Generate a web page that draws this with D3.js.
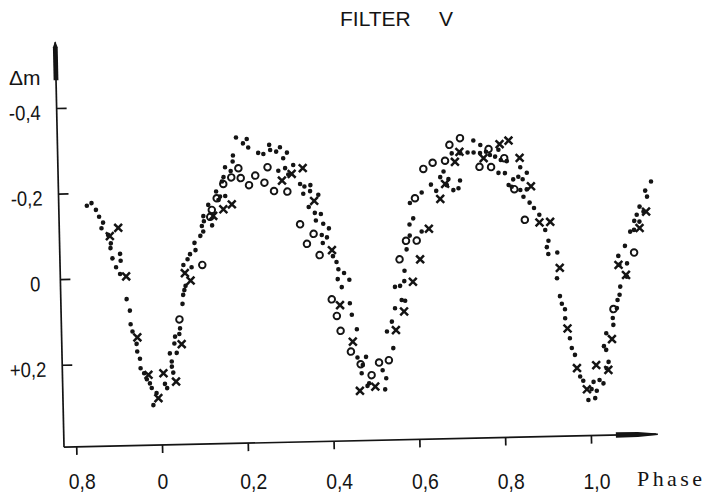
<!DOCTYPE html>
<html>
<head>
<meta charset="utf-8">
<script src="https://cdn.jsdelivr.net/npm/d3@7"></script>
<style>
  body { margin: 0; background: #fff; }
  svg { display: block; }
  .num { font-family: "Liberation Sans", Arial, sans-serif; }
  .type { font-family: "Liberation Serif", "DejaVu Serif", serif; }
</style>
</head>
<body>
<svg id="chart"></svg>
<script>
const xTicks = [-0.2, 0, 0.2, 0.4, 0.6, 0.8, 1.0]
const xTickLabels = ['0,8', '0', '0,2', '0,4', '0,6', '0,8', '1,0']
const yTicks = [-0.4, -0.2, 0, 0.2]
const yTickLabels = ['-0,4', '-0,2', '0', '+0,2']

// [phase, delta m]
const dots = [
  [-0.163,-0.170],[-0.152,-0.176],[-0.142,-0.160],[-0.135,-0.144],[-0.126,-0.130],[-0.130,-0.117],[-0.115,-0.101],[-0.109,-0.081],[-0.110,-0.070],[-0.088,-0.056],[-0.106,-0.046],[-0.087,-0.040],[-0.098,-0.025],[-0.089,-0.009],[-0.075,0.050],[-0.068,0.077],[-0.067,0.109],[-0.063,0.126],[-0.054,0.155],[-0.053,0.173],[-0.047,0.190],[-0.046,0.212],[-0.038,0.224],[-0.032,0.238],[-0.025,0.248],[-0.021,0.259],[-0.010,0.271],[-0.018,0.299],
  [0.010,0.250],[0.015,0.260],[0.027,0.210],[0.030,0.224],[0.027,0.198],[0.023,0.179],[0.039,0.178],[0.034,0.156],[0.036,0.140],[0.046,0.134],[0.048,0.121],[0.055,0.064],[0.057,0.043],[0.060,0.032],[0.063,0.022],[0.059,-0.027],[0.069,-0.040],[0.078,-0.021],[0.075,-0.052],[0.088,-0.061],[0.086,-0.078],[0.100,-0.094],[0.107,-0.104],[0.104,-0.117],[0.109,-0.128],[0.108,-0.140],[0.128,-0.118],[0.120,-0.166],[0.144,-0.177],[0.139,-0.197],[0.148,-0.185],[0.160,-0.186],[0.153,-0.220],[0.157,-0.230],[0.174,-0.244],[0.161,-0.253],[0.179,-0.266],[0.180,-0.280],[0.188,-0.322],[0.213,-0.318],[0.204,-0.308],[0.216,-0.298],[0.239,-0.285],[0.251,-0.282],[0.265,-0.303],[0.267,-0.291],[0.281,-0.287],[0.290,-0.297],[0.306,-0.284],[0.297,-0.271],[0.320,-0.255],[0.285,-0.242],[0.301,-0.248],[0.308,-0.233],
  [0.335,-0.210],[0.345,-0.204],[0.359,-0.207],[0.358,-0.193],[0.377,-0.184],[0.342,-0.187],[0.354,-0.156],[0.368,-0.142],[0.382,-0.139],[0.370,-0.124],[0.387,-0.116],[0.400,-0.105],[0.383,-0.090],[0.395,-0.084],[0.385,-0.071],[0.408,-0.040],[0.416,-0.026],[0.420,-0.009],[0.433,0.000],[0.418,0.014],[0.445,0.016],[0.427,0.033],[0.445,0.071],[0.449,0.098],[0.460,0.132],[0.460,0.198],[0.480,0.197],[0.472,0.216],[0.469,0.235],[0.518,0.229],[0.526,0.248],[0.486,0.259],[0.523,0.274],[0.482,0.265],
  [0.544,0.178],[0.530,0.139],[0.542,0.116],[0.550,0.085],[0.566,0.066],[0.574,0.068],[0.551,0.035],[0.563,0.033],[0.573,0.022],[0.574,-0.002],[0.580,-0.052],[0.588,-0.084],[0.588,-0.110],[0.597,-0.124],[0.616,-0.093],[0.590,-0.160],[0.618,-0.184],[0.640,-0.202],[0.652,-0.187],[0.662,-0.219],[0.670,-0.232],[0.681,-0.214],[0.677,-0.200],[0.692,-0.188],[0.704,-0.192],[0.708,-0.210],
  [0.690,-0.274],[0.710,-0.274],[0.727,-0.275],[0.741,-0.275],[0.756,-0.273],[0.770,-0.276],[0.779,-0.268],[0.791,-0.264],[0.804,-0.256],[0.818,-0.253],[0.741,-0.303],[0.757,-0.292],[0.799,-0.280],[0.798,-0.226],[0.813,-0.225],[0.849,-0.238],[0.844,-0.216],[0.854,-0.210],[0.864,-0.225],[0.832,-0.210],[0.821,-0.197],[0.828,-0.193],[0.848,-0.185],[0.863,-0.186],[0.855,-0.169],[0.869,-0.155],[0.879,-0.142],[0.891,-0.126],[0.904,-0.090],[0.911,-0.065],[0.907,-0.050],[0.910,-0.034],[0.931,-0.037],[0.929,0.023],[0.935,0.065],[0.939,0.083],[0.946,0.096],[0.946,0.117],[0.956,0.164],[0.960,0.187],[0.967,0.203],[0.978,0.254],[0.985,0.264],[1.009,0.267],[1.004,0.284],[1.023,0.263],[1.032,0.271],[1.016,0.288],[0.996,0.309],[1.012,0.305],
  [1.040,0.236],[1.045,0.221],[1.040,0.193],[1.035,0.184],[1.041,0.154],[1.058,0.135],[1.057,0.119],[1.067,0.096],[1.069,0.077],[1.074,0.065],[1.076,0.046],[1.092,0.023],[1.075,-0.005],[1.093,-0.008],[1.073,-0.026],[1.089,-0.049],[1.102,-0.082],[1.111,-0.086],[1.124,-0.105],[1.112,-0.107],[1.118,-0.121],[1.134,-0.128],[1.125,-0.140],[1.143,-0.163],[1.139,-0.177],[1.153,-0.198]
]

const crosses = [
  [-0.091,-0.117],[-0.111,-0.098],[-0.075,-0.003],[-0.052,0.140],[-0.028,0.228],[-0.006,0.283],[0.007,0.225],[0.036,0.245],[0.051,0.158],[0.062,-0.008],[0.075,0.010],[0.131,-0.140],[0.155,-0.155],[0.175,-0.166],[0.293,-0.219],[0.316,-0.234],[0.342,-0.247],[0.367,-0.170],[0.406,-0.054],[0.422,0.075],[0.450,0.161],[0.464,0.276],[0.500,0.267],[0.551,0.136],[0.571,0.093],[0.593,0.024],[0.611,-0.028],[0.633,-0.099],[0.661,-0.168],[0.673,-0.203],[0.697,-0.254],[0.708,-0.277],[0.764,-0.261],[0.802,-0.293],[0.823,-0.301],[0.848,-0.260],[0.873,-0.193],[0.891,-0.108],[0.916,-0.109],[0.936,-0.001],[0.951,0.141],[0.971,0.234],[0.993,0.284],[1.016,0.228],[1.044,0.240],[1.054,0.168],[1.073,-0.005],[1.090,0.019],[1.124,-0.090],[1.140,-0.128]
]

const circles = [
  [0.047,0.100],[0.103,-0.026],[0.124,-0.138],[0.128,-0.154],[0.140,-0.181],[0.156,-0.214],[0.175,-0.229],[0.192,-0.250],[0.197,-0.227],[0.216,-0.210],[0.231,-0.232],[0.252,-0.215],[0.260,-0.251],[0.274,-0.195],[0.305,-0.193],[0.333,-0.116],[0.364,-0.093],[0.348,-0.070],[0.377,-0.043],[0.403,0.061],[0.414,0.100],[0.422,0.135],[0.445,0.184],[0.467,0.214],[0.492,0.240],[0.510,0.211],[0.533,0.206],[0.563,-0.029],[0.579,-0.072],[0.604,-0.072],[0.602,-0.171],[0.623,-0.239],[0.645,-0.253],[0.674,-0.257],[0.685,-0.294],[0.710,-0.309],[0.754,-0.241],[0.776,-0.282],[0.781,-0.240],[0.812,-0.260],[0.834,-0.187],[0.857,-0.115],[1.059,0.098],[1.110,-0.033]
]

const width = 707, height = 498
const ink = '#141414'

const svg = d3.select('#chart')
  .attr('width', width)
  .attr('height', height)

svg.append('rect')
  .attr('width', width)
  .attr('height', height)
  .attr('fill', '#fff')

const x = d3.scaleLinear().domain([0, 1]).range([162, 591])
const y = d3.scaleLinear().domain([0, 0.2]).range([277, 362.6])

const axisX = 64, axisY = 445

// the scanned figure sits slightly askew
const plot = svg.append('g')
  .attr('transform', `rotate(-1.25, ${x(0)}, ${axisY})`)

plot.append('line')
  .attr('x1', axisX).attr('y1', 40)
  .attr('x2', axisX).attr('y2', axisY)
  .attr('stroke', ink).attr('stroke-width', 1.7)

plot.append('line')
  .attr('x1', axisX).attr('y1', axisY)
  .attr('x2', 656).attr('y2', axisY)
  .attr('stroke', ink).attr('stroke-width', 1.7)

// arrow heads
plot.append('path')
  .attr('d', `M${axisX - 2.4},78 L${axisX - 2.4},45 L${axisX},39 L${axisX + 2.4},45 L${axisX + 2.4},78 Z`)
  .attr('fill', ink)

plot.append('path')
  .attr('d', `M616,${axisY - 2.8} L638,${axisY - 2.6} L658,${axisY - 0.8} L658,${axisY + 0.8} L638,${axisY + 2.4} L616,${axisY + 2.6} Z`)
  .attr('fill', ink)

plot.append('g')
  .attr('transform', `translate(${axisX},0)`)
  .call(d3.axisRight(y).tickValues(yTicks).tickSize(10).tickFormat(''))
  .call(g => g.select('.domain').remove())
  .call(g => g.selectAll('.tick line').attr('stroke', ink).attr('stroke-width', 1.7))

plot.append('g')
  .attr('transform', `translate(0,${axisY})`)
  .call(d3.axisBottom(x).tickValues(xTicks).tickSize(8).tickFormat(''))
  .call(g => g.select('.domain').remove())
  .call(g => g.selectAll('.tick line').attr('stroke', ink).attr('stroke-width', 1.7))

// narrow lettering: squeeze the sans glyphs horizontally
plot.append('g')
  .selectAll('text')
  .data(yTicks)
  .enter().append('text')
  .attr('class', 'num')
  .attr('transform', d => `translate(${d === 0 ? 44 : 48},${y(d) + 4}) scale(0.88,1)`)
  .attr('dy', '0.36em')
  .attr('text-anchor', 'end')
  .attr('font-size', 21)
  .attr('fill', ink)
  .text((d, i) => yTickLabels[i])

plot.append('g')
  .selectAll('circle')
  .data(dots)
  .enter().append('circle')
  .attr('cx', d => x(d[0]))
  .attr('cy', d => y(d[1]))
  .attr('r', 2.3)
  .attr('fill', ink)

plot.append('g')
  .selectAll('path')
  .data(crosses)
  .enter().append('path')
  .attr('transform', d => `translate(${x(d[0])},${y(d[1])})`)
  .attr('d', 'M-3.9,-3.9L3.9,3.9M3.9,-3.9L-3.9,3.9')
  .attr('stroke', ink)
  .attr('stroke-width', 2.5)
  .attr('fill', 'none')

plot.append('g')
  .selectAll('circle')
  .data(circles)
  .enter().append('circle')
  .attr('cx', d => x(d[0]))
  .attr('cy', d => y(d[1]))
  .attr('r', 3.3)
  .attr('fill', 'none')
  .attr('stroke', ink)
  .attr('stroke-width', 1.9)

// tick labels along the bottom are lettered level, outside the skew
svg.append('g')
  .selectAll('text')
  .data(xTicks)
  .enter().append('text')
  .attr('class', 'num')
  .attr('transform', (d, i) => `translate(${x(d) + (xTickLabels[i].length > 1 ? 6 : 1)},489) scale(0.88,1)`)
  .attr('text-anchor', 'middle')
  .attr('font-size', 22)
  .attr('fill', ink)
  .text((d, i) => xTickLabels[i])

// typewritten axis name
svg.append('text')
  .attr('class', 'type')
  .attr('x', 637)
  .attr('y', 486)
  .attr('font-size', 22)
  .attr('letter-spacing', 3.4)
  .attr('fill', ink)
  .text('Phase')

svg.append('text')
  .attr('class', 'num')
  .attr('x', 9)
  .attr('y', 85)
  .attr('font-size', 21)
  .attr('fill', ink)
  .text('\u0394m')

svg.append('text')
  .attr('class', 'num')
  .attr('x', 340)
  .attr('y', 26)
  .attr('font-size', 21)
  .attr('fill', ink)
  .text('FILTER')

svg.append('text')
  .attr('class', 'num')
  .attr('x', 446)
  .attr('y', 26)
  .attr('text-anchor', 'middle')
  .attr('font-size', 21)
  .attr('fill', ink)
  .text('V')
</script>
</body>
</html>
